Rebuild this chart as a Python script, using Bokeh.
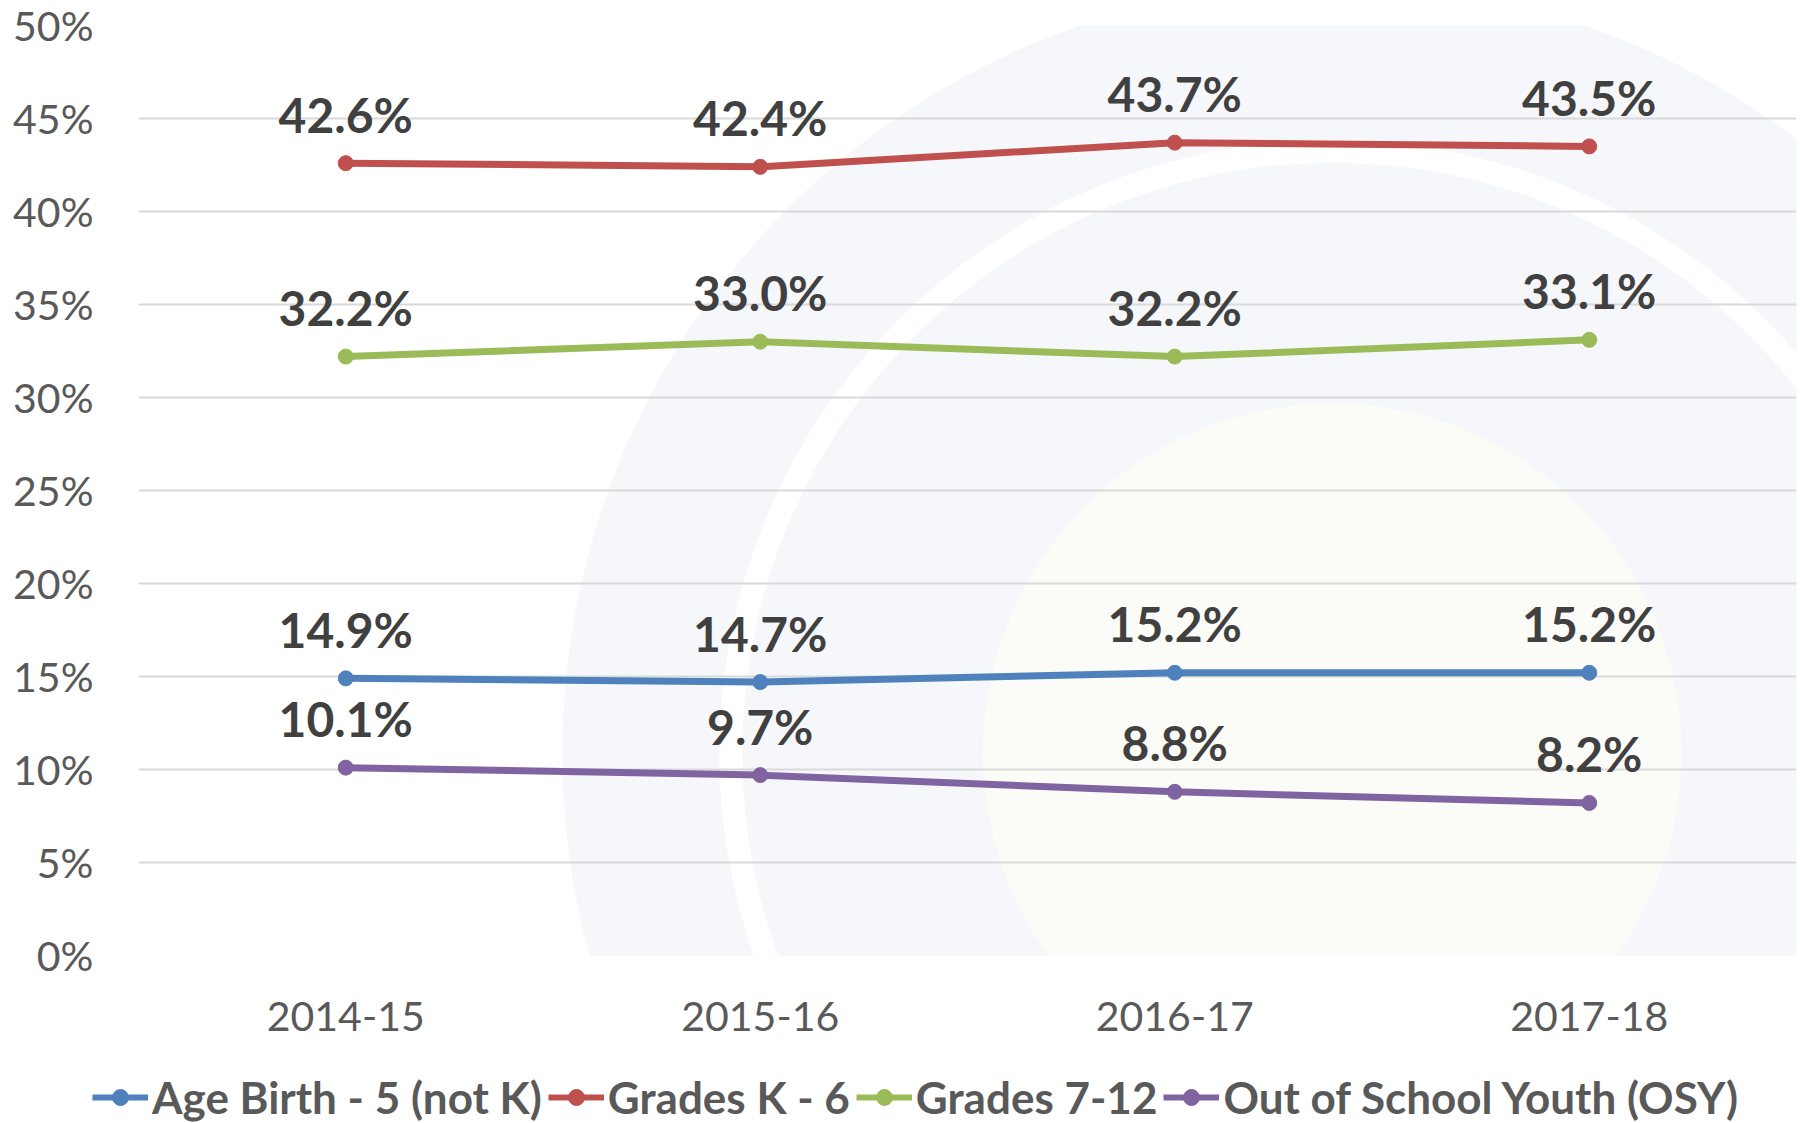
from bokeh.plotting import figure
from bokeh.models import Legend, LegendItem, FixedTicker, PrintfTickFormatter, Range1d, FactorRange
from bokeh.core.properties import value
from bokeh.embed import file_html
from bokeh.resources import INLINE

# ---- data ----
years = ["2014-15", "2015-16", "2016-17", "2017-18"]
age_birth_5 = [14.9, 14.7, 15.2, 15.2]
grades_k_6 = [42.6, 42.4, 43.7, 43.5]
grades_7_12 = [32.2, 33.0, 32.2, 33.1]
out_of_school = [10.1, 9.7, 8.8, 8.2]
series_names = ["Age Birth - 5 (not K)", "Grades K - 6", "Grades 7-12", "Out of School Youth (OSY)"]
series_values = [age_birth_5, grades_k_6, grades_7_12, out_of_school]
series_colors = ["#4F81BD", "#C0504D", "#9BBB59", "#8064A2"]
y_ticks = list(range(0, 55, 5))

FONT = "Lato"

p = figure(x_range=FactorRange(*years), y_range=Range1d(0, 50),
           width=1800, height=1060, output_backend="svg", toolbar_location=None,
           min_border_left=138, min_border_right=4, min_border_top=25, min_border_bottom=105)
p.background_fill_color = "white"
p.border_fill_color = "white"
p.outline_line_color = None

# faint watermark rings in background (decorative)
wm_x, wm_y = [2.88], [10.9]
p.annulus(x=wm_x, y=wm_y, inner_radius=613, outer_radius=770,
          inner_radius_units="screen", outer_radius_units="screen",
          fill_color="#F6F7FA", line_color=None, level="image")
p.annulus(x=wm_x, y=wm_y, inner_radius=349, outer_radius=590,
          inner_radius_units="screen", outer_radius_units="screen",
          fill_color="#F6F7FA", line_color=None, level="image")
p.circle(x=wm_x, y=wm_y, radius=349, radius_units="screen",
         fill_color="#FBFBF7", line_color=None, level="image")

for name, vals, col in zip(series_names, series_values, series_colors):
    p.line(years, vals, line_width=7, line_color=col)
    p.scatter(years, vals, size=15, fill_color=col, line_color=col)
    p.text(x=years, y=vals, text=[f"{v:.1f}%" for v in vals],
           text_align="center", text_baseline="alphabetic", y_offset=-49,
           text_font=value(FONT), text_font_style="bold", text_font_size="48px",
           text_color="#404040")

# axes
ticker = FixedTicker(ticks=y_ticks)
p.yaxis.ticker = ticker
p.ygrid.ticker = ticker
p.yaxis.formatter = PrintfTickFormatter(format="%d%%")
for ax in (p.xaxis, p.yaxis):
    ax.axis_line_color = None
    ax.major_tick_line_color = None
    ax.minor_tick_line_color = None
    ax.major_label_text_font = FONT
    ax.major_label_text_font_size = "41px"
    ax.major_label_text_color = "#595959"
p.xaxis.major_label_standoff = 40
p.yaxis.major_label_standoff = 39

p.xgrid.grid_line_color = None
p.ygrid.grid_line_color = "#D9D9D9"
p.ygrid.grid_line_width = 2

# ---- legend strip (separate root below; sample glyphs drawn out of view) ----
lg = figure(x_range=FactorRange(*years), y_range=Range1d(1000, 1001),
            width=1800, height=63, output_backend="svg", toolbar_location=None,
            min_border=0, x_axis_location=None, y_axis_location=None)
lg.outline_line_color = None
lg.grid.visible = False
lg.background_fill_color = "white"
lg.border_fill_color = "white"

items = []
for name, vals, col in zip(series_names, series_values, series_colors):
    rl = lg.line(years, vals, line_width=6, line_color=col)
    rs = lg.scatter(years, vals, size=13, fill_color=col, line_color=col)
    items.append(LegendItem(label=name, renderers=[rl, rs]))

legend = Legend(items=items, orientation="horizontal", location=(92, 0),
                glyph_width=56, glyph_height=40, label_standoff=4, spacing=6,
                padding=0, margin=0, border_line_color=None, background_fill_alpha=0,
                label_text_font=FONT, label_text_font_style="bold",
                label_text_font_size="44px", label_text_color="#595959", label_height=40)
lg.add_layout(legend)

open("out.html", "w").write(file_html([p, lg], INLINE))
